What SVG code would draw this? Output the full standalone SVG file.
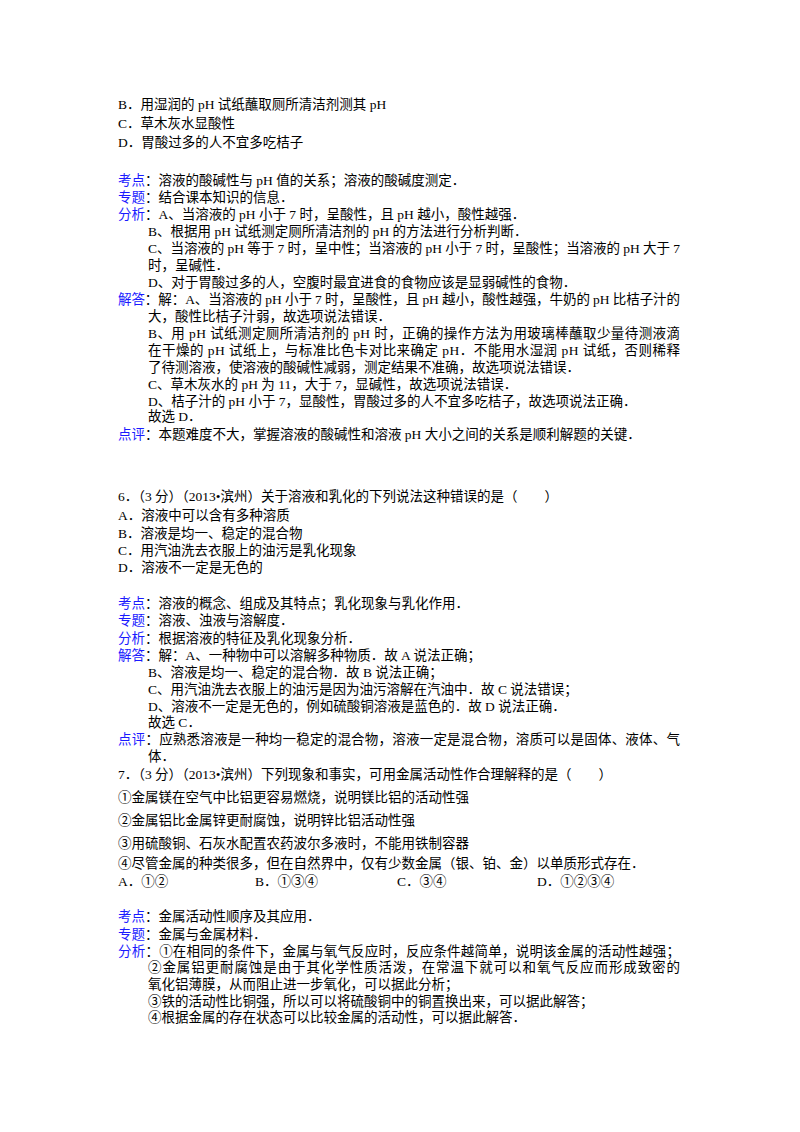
<svg xmlns="http://www.w3.org/2000/svg" width="800" height="1132" viewBox="0 0 800 1132">
<style>
text{font-family:"Liberation Serif","Noto Sans CJK SC",serif;font-size:13.5px;fill:#000}
.l{fill:#1a1aff}
</style>
<rect width="800" height="1132" fill="#fff"/>
<g id="q5">
<text x="118" y="109">B．用湿润的 pH 试纸蘸取厕所清洁剂测其 pH</text>
<text x="118" y="128">C．草木灰水显酸性</text>
<text x="118" y="147">D．胃酸过多的人不宜多吃桔子</text>
<text x="118" y="185"><tspan class="l">考点</tspan>：溶液的酸碱性与 pH 值的关系；溶液的酸碱度测定．</text>
<text x="118" y="202"><tspan class="l">专题</tspan>：结合课本知识的信息．</text>
<text x="118" y="219"><tspan class="l">分析</tspan>：A、当溶液的 pH 小于 7 时，呈酸性，且 pH 越小，酸性越强．</text>
<text x="148" y="236">B、根据用 pH 试纸测定厕所清洁剂的 pH 的方法进行分析判断．</text>
<text x="148" y="253" textLength="532" lengthAdjust="spacing">C、当溶液的 pH 等于 7 时，呈中性；当溶液的 pH 小于 7 时，呈酸性；当溶液的 pH 大于 7</text>
<text x="148" y="270">时，呈碱性．</text>
<text x="148" y="287">D、对于胃酸过多的人，空腹时最宜进食的食物应该是显弱碱性的食物．</text>
<text x="118" y="304" textLength="562" lengthAdjust="spacing"><tspan class="l">解答</tspan>：解：A、当溶液的 pH 小于 7 时，呈酸性，且 pH 越小，酸性越强，牛奶的 pH 比桔子汁的</text>
<text x="148" y="321">大，酸性比桔子汁弱，故选项说法错误．</text>
<text x="148" y="338" textLength="532" lengthAdjust="spacing">B、用 pH 试纸测定厕所清洁剂的 pH 时，正确的操作方法为用玻璃棒蘸取少量待测液滴</text>
<text x="148" y="355" textLength="532" lengthAdjust="spacing">在干燥的 pH 试纸上，与标准比色卡对比来确定 pH．不能用水湿润 pH 试纸，否则稀释</text>
<text x="148" y="372">了待测溶液，使溶液的酸碱性减弱，测定结果不准确，故选项说法错误．</text>
<text x="148" y="389">C、草木灰水的 pH 为 11，大于 7，显碱性，故选项说法错误．</text>
<text x="148" y="406">D、桔子汁的 pH 小于 7，显酸性，胃酸过多的人不宜多吃桔子，故选项说法正确．</text>
<text x="148" y="421">故选 D．</text>
<text x="118" y="439"><tspan class="l">点评</tspan>：本题难度不大，掌握溶液的酸碱性和溶液 pH 大小之间的关系是顺利解题的关键．</text>
</g>
<g id="q6">
<text x="118" y="501">6．（3 分）（2013•滨州）关于溶液和乳化的下列说法这种错误的是（　　）</text>
<text x="118" y="520">A．溶液中可以含有多种溶质</text>
<text x="118" y="538">B．溶液是均一、稳定的混合物</text>
<text x="118" y="555">C．用汽油洗去衣服上的油污是乳化现象</text>
<text x="118" y="572">D．溶液不一定是无色的</text>
<text x="118" y="608"><tspan class="l">考点</tspan>：溶液的概念、组成及其特点；乳化现象与乳化作用．</text>
<text x="118" y="625"><tspan class="l">专题</tspan>：溶液、浊液与溶解度．</text>
<text x="118" y="643"><tspan class="l">分析</tspan>：根据溶液的特征及乳化现象分析．</text>
<text x="118" y="660"><tspan class="l">解答</tspan>：解：A、一种物中可以溶解多种物质．故 A 说法正确；</text>
<text x="148" y="677">B、溶液是均一、稳定的混合物．故 B 说法正确；</text>
<text x="148" y="694">C、用汽油洗去衣服上的油污是因为油污溶解在汽油中．故 C 说法错误；</text>
<text x="148" y="711">D、溶液不一定是无色的，例如硫酸铜溶液是蓝色的．故 D 说法正确．</text>
<text x="148" y="727">故选 C．</text>
<text x="118" y="744" textLength="562" lengthAdjust="spacing"><tspan class="l">点评</tspan>：应熟悉溶液是一种均一稳定的混合物，溶液一定是混合物，溶质可以是固体、液体、气</text>
<text x="148" y="761">体．</text>
</g>
<g id="q7">
<text x="118" y="779">7．（3 分）（2013•滨州）下列现象和事实，可用金属活动性作合理解释的是（　　）</text>
<text x="118" y="802">①金属镁在空气中比铝更容易燃烧，说明镁比铝的活动性强</text>
<text x="118" y="825">②金属铝比金属锌更耐腐蚀，说明锌比铝活动性强</text>
<text x="118" y="848">③用硫酸铜、石灰水配置农药波尔多液时，不能用铁制容器</text>
<text x="118" y="868">④尽管金属的种类很多，但在自然界中，仅有少数金属（银、铂、金）以单质形式存在．</text>
<text x="118" y="886">A．①②</text>
<text x="255" y="886">B．①③④</text>
<text x="397" y="886">C．③④</text>
<text x="537" y="886">D．①②③④</text>
<text x="118" y="921"><tspan class="l">考点</tspan>：金属活动性顺序及其应用．</text>
<text x="118" y="939"><tspan class="l">专题</tspan>：金属与金属材料．</text>
<text x="118" y="956" textLength="562" lengthAdjust="spacing"><tspan class="l">分析</tspan>：①在相同的条件下，金属与氧气反应时，反应条件越简单，说明该金属的活动性越强；</text>
<text x="148" y="972" textLength="532" lengthAdjust="spacing">②金属铝更耐腐蚀是由于其化学性质活泼，在常温下就可以和氧气反应而形成致密的</text>
<text x="148" y="989">氧化铝薄膜，从而阻止进一步氧化，可以据此分析；</text>
<text x="148" y="1006">③铁的活动性比铜强，所以可以将硫酸铜中的铜置换出来，可以据此解答；</text>
<text x="148" y="1022">④根据金属的存在状态可以比较金属的活动性，可以据此解答．</text>
</g>
</svg>
